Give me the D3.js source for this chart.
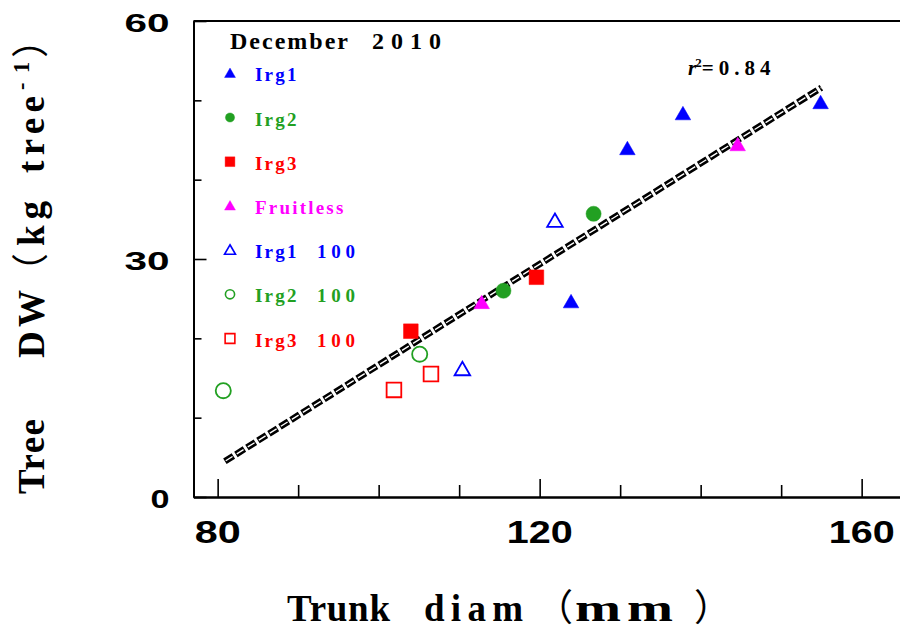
<!DOCTYPE html>
<html>
<head>
<meta charset="utf-8">
<script src="https://cdn.jsdelivr.net/npm/d3@7"></script>
<style>
  html, body { margin: 0; padding: 0; background: #fff; }
  svg { display: block; }
  text { white-space: pre; }
</style>
</head>
<body>
<svg id="chart" width="900" height="639"></svg>
<script>
// ---------- data ----------
const seriesNames = ["Irg1", "Irg2", "Irg3", "Fruitless", "Irg1  100", "Irg2  100", "Irg3  100"];
const seriesColors = ["#0000ff", "#22a022", "#ff0000", "#ff00ff", "#0000ff", "#22a022", "#ff0000"];
const seriesShapes = ["triangle", "circle", "square", "triangle", "triangle", "circle", "square"];
const seriesFilled = [true, true, true, true, false, false, false];

const irg1X = [130.9, 137.8, 154.9, 123.9];
const irg1Y = [43.9, 48.3, 49.7, 24.6];
const irg2X = [126.7, 115.5];
const irg2Y = [35.7, 26.0];
const irg3X = [104.0, 119.6];
const irg3Y = [20.9, 27.7];
const fruitlessX = [144.6, 112.8];
const fruitlessY = [44.4, 24.5];
const irg1_100X = [121.9, 110.4];
const irg1_100Y = [34.8, 16.1];
const irg2_100X = [80.7, 105.1];
const irg2_100Y = [13.4, 18.0];
const irg3_100X = [101.9, 106.5];
const irg3_100Y = [13.5, 15.5];

const fitX = [80.9, 155.0];
const fitY = [4.5, 51.6];
const rSquared = "0.84";

const xMajorTicks = [80, 120, 160];
const xMinorTicks = [90, 100, 110, 130, 140, 150];
const yMajorTicks = [0, 30, 60];
const yMinorTicks = [10, 20, 40, 50];

const titleWords = ["December", "2010"];
const xTitleWords = ["Trunk", "diam", "\uFF08", "mm", "\uFF09"];
const yTitleWords = ["Tree", "DW", "\uFF08", "kg", "tree", "-1", "\uFF09"];

// ---------- layout ----------
const svg = d3.select("#chart");
const x = d3.scaleLinear().domain([77, 165]).range([193.5, 901.9]);
const y = d3.scaleLinear().domain([0, 60]).range([497, 21]);

const seriesX = [irg1X, irg2X, irg3X, fruitlessX, irg1_100X, irg2_100X, irg3_100X];
const seriesY = [irg1Y, irg2Y, irg3Y, fruitlessY, irg1_100Y, irg2_100Y, irg3_100Y];

const shapeType = { triangle: d3.symbolTriangle, circle: d3.symbolCircle, square: d3.symbolSquare };
const plotSize = { triangle: 105, circle: 180, square: 215 };
const legendSize = { triangle: 52, circle: 66, square: 95 };
const serif = "'Liberation Serif', 'Times New Roman', serif";
const cjk = "'Noto Sans CJK SC', sans-serif";

// ---------- axes ----------
const axisG = svg.append("g");
const xMinorAxis = d3.axisBottom(x).tickValues(xMinorTicks).tickSizeInner(-12).tickSizeOuter(0).tickFormat("");
const xMajorAxis = d3.axisBottom(x).tickValues(xMajorTicks).tickSizeInner(-18).tickSizeOuter(0).tickFormat("");
const yMinorAxis = d3.axisLeft(y).tickValues(yMinorTicks).tickSizeInner(-8).tickSizeOuter(0).tickFormat("");
const yMajorAxis = d3.axisLeft(y).tickValues(yMajorTicks).tickSizeInner(-13).tickSizeOuter(0).tickFormat("");

[[xMinorAxis, "x"], [xMajorAxis, "x"], [yMinorAxis, "y"], [yMajorAxis, "y"]].forEach(([ax, t]) => {
  const g = axisG.append("g")
    .attr("transform", t === "x" ? `translate(0,${y(0)})` : `translate(${x(77)},0)`)
    .call(ax);
  g.selectAll("path.domain").attr("stroke", "#000").attr("stroke-width", 2);
  g.selectAll(".tick line").attr("stroke", "#000").attr("stroke-width", 1.6);
});
axisG.append("line")
  .attr("x1", x(77)).attr("x2", x(165)).attr("y1", y(60)).attr("y2", y(60))
  .attr("stroke", "#000").attr("stroke-width", 2);

// tick labels
svg.append("g").selectAll("text").data(xMajorTicks).join("text")
  .attr("x", d => x(d)).attr("y", 543)
  .attr("text-anchor", "middle")
  .attr("font-family", "'Liberation Sans', Arial, sans-serif")
  .attr("font-weight", "bold").attr("font-size", 32)
  .attr("textLength", d => String(d).length === 2 ? 46 : 66)
  .attr("lengthAdjust", "spacingAndGlyphs")
  .text(d => d);

svg.append("g").selectAll("text").data(yMajorTicks).join("text")
  .attr("x", 169.5).attr("y", d => y(d) + 11)
  .attr("text-anchor", "end")
  .attr("font-family", "'Liberation Sans', Arial, sans-serif")
  .attr("font-weight", "bold").attr("font-size", 25)
  .attr("textLength", d => String(d).length === 2 ? 45 : 19)
  .attr("lengthAdjust", "spacingAndGlyphs")
  .text(d => d);

// helper: words placed along a baseline, each with a start and a width
function placeWords(g, words, starts, lengths, opts) {
  words.forEach((w, i) => {
    const isCjk = /[\uFF08\uFF09]/.test(w);
    const isSup = opts.sup && opts.sup[i];
    const t = g.append("text")
      .attr("x", starts[i]).attr("y", isSup ? -15 : 0)
      .attr("font-family", isCjk ? cjk : serif)
      .attr("font-weight", isCjk ? "normal" : "bold")
      .attr("font-size", isSup ? opts.size * 0.6 : (isCjk ? opts.size * 1.0 : opts.size))
      .attr("fill", "#000")
      .text(w);
    if (opts.ls && opts.ls[i]) t.attr("letter-spacing", opts.ls[i]);
    if (lengths[i]) {
      const stretch = opts.stretch && opts.stretch[i];
      t.attr("textLength", lengths[i]).attr("lengthAdjust", stretch ? "spacingAndGlyphs" : "spacing");
    }
  });
}

// x title
const xt = svg.append("g").attr("transform", "translate(0,621)");
placeWords(xt, xTitleWords, [287, 424, 536, 575, 694], [103, 99, 0, 104, 0],
  { size: 37, stretch: [false, false, false, true, false], ls: [0, 0, 0, 4, 0] });

// y title (rotated: along-text coord = -screenY)
const yt = svg.append("g").attr("transform", "translate(44,0) rotate(-90)");
placeWords(yt, yTitleWords, [-494, -358, -290, -246, -173, -90, -58],
  [75, 68, 0, 45, 77, 28, 0], { size: 37, sup: [false, false, false, false, false, true, false] });

// ---------- fit line ----------
const lineGen = d3.line().x(d => x(d[0])).y(d => y(d[1]));
const fitPts = fitX.map((v, i) => [v, fitY[i]]);
svg.append("path").datum(fitPts).attr("d", lineGen)
  .attr("fill", "none").attr("stroke", "#000").attr("stroke-width", 6.5)
  .attr("stroke-dasharray", "10,3");
svg.append("path").datum(fitPts).attr("d", lineGen)
  .attr("fill", "none").attr("stroke", "#fff").attr("stroke-width", 1.4)
  .attr("stroke-dasharray", "8,5").attr("stroke-dashoffset", -1);

// ---------- points ----------
const ptsG = svg.append("g");
seriesNames.forEach((name, i) => {
  const sym = d3.symbol().type(shapeType[seriesShapes[i]]).size(plotSize[seriesShapes[i]]);
  const pts = seriesX[i].map((v, j) => [v, seriesY[i][j]]);
  ptsG.selectAll(null).data(pts).join("path")
    .attr("transform", d => `translate(${x(d[0])},${y(d[1]) + (seriesShapes[i] === "triangle" ? 1.5 : 0)})`)
    .attr("d", sym)
    .attr("fill", seriesFilled[i] ? seriesColors[i] : "none")
    .attr("stroke", seriesColors[i])
    .attr("stroke-width", seriesFilled[i] ? 0.5 : 1.8);
});

// ---------- legend ----------
const tg = svg.append("g").attr("transform", "translate(0,49)");
tg.append("text").attr("x", 230).attr("font-family", serif).attr("font-weight", "bold")
  .attr("font-size", 24).attr("letter-spacing", 2).text(titleWords[0]);
tg.append("text").attr("x", 372).attr("font-family", serif).attr("font-weight", "bold")
  .attr("font-size", 24).attr("textLength", 69).attr("lengthAdjust", "spacing").text(titleWords[1]);

const legG = svg.append("g");
seriesNames.forEach((name, i) => {
  const cy = 73.3 + i * 44.2;
  const sym = d3.symbol().type(shapeType[seriesShapes[i]]).size(legendSize[seriesShapes[i]]);
  legG.append("path")
    .attr("transform", `translate(230,${cy + (seriesShapes[i] === "triangle" ? 1 : 0)})`)
    .attr("d", sym)
    .attr("fill", seriesFilled[i] ? seriesColors[i] : "none")
    .attr("stroke", seriesColors[i])
    .attr("stroke-width", seriesFilled[i] ? 0.4 : 1.6);
  const parts = name.split(/\s+/);
  legG.append("text")
    .attr("x", 255).attr("y", cy + 8)
    .attr("font-family", serif).attr("font-weight", "bold").attr("font-size", 19)
    .attr("letter-spacing", 2.2)
    .attr("fill", seriesColors[i])
    .text(parts[0]);
  if (parts[1]) {
    legG.append("text")
      .attr("x", 317).attr("y", cy + 8)
      .attr("font-family", serif).attr("font-weight", "bold").attr("font-size", 19)
      .attr("textLength", 38).attr("lengthAdjust", "spacing")
      .attr("fill", seriesColors[i])
      .text(parts[1]);
  }
});

// r-squared annotation
const rt = svg.append("text")
  .attr("x", 688).attr("y", 75)
  .attr("font-family", serif).attr("font-weight", "bold").attr("font-size", 21);
rt.append("tspan").attr("font-style", "italic").text("r");
rt.append("tspan").attr("font-size", 13).attr("dy", -8).attr("dx", -1).text("2");
rt.append("tspan").attr("dy", 8).attr("letter-spacing", 5).text("=" + rSquared);
</script>
</body>
</html>
